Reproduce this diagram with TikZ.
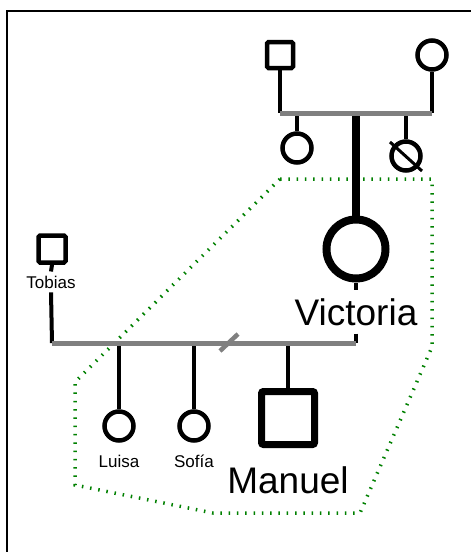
\documentclass[tikz,border=0pt]{standalone}
\usepackage{fontspec}
\setmainfont{Liberation Sans}
\definecolor{uniongray}{RGB}{128,128,128}
\definecolor{circlegreen}{RGB}{0,128,0}
\begin{document}
\begin{tikzpicture}[x=1pt, y=-1pt,
  person/.style={draw=black, line width=4.5pt, fill=white, inner sep=0pt},
  male/.style={person, rectangle, minimum size=26pt, rounded corners=1.5pt},
  female/.style={person, circle, minimum size=29pt},
  kin/.style={line width=4pt},
  union/.style={line width=5pt, draw=uniongray},
  tag/.style={font=\fontsize{17}{20}\selectfont, anchor=base, inner sep=4pt, fill=white},
  bigtag/.style={font=\fontsize{37}{44}\selectfont, anchor=base, inner xsep=2pt, inner ysep=8pt, fill=white},
  ring/.style={draw=circlegreen, line width=3.5pt, dash pattern=on 1.5pt off 6.8pt}
]
\useasboundingbox (0,0) rectangle (471,552);

% outer frame
\draw[line width=2pt] (471,11) -- (7,11) -- (7,552);

% dotted outline around the focus group
\draw[ring] (280,179) -- (432,179) -- (432,347) -- (360,513) -- (213,513)
  -- (75,485) -- (75,382) -- cycle;

% union points
\coordinate (upL) at (280,113);
\coordinate (upR) at (432,113);
\coordinate (loL) at (52,343);
\coordinate (loR) at (356,343);
\coordinate (split) at (229,343);

% grandparents and their children
\node[male] (gf) at (280,55) {};
\node[female] (gm) at (432,55) {};
\node[female] (aunt1) at (297,148) {};
\node[female] (aunt2) at (406,156) {};
\node[person, circle, line width=8pt, minimum size=59pt] (victoria) at (356,249) {};
\node[bigtag] (vlab) at (356,325) {Victoria};

% second family
\node[male, minimum size=27pt] (tobias) at (52,249) {};
\node[tag] (tlab) at (51,288) {Tobias};
\node[female] (luisa) at (119,426) {};
\node[female] (sofia) at (194,426) {};
\node[person, rectangle, line width=7pt, minimum size=53pt, rounded corners=2pt] (manuel) at (288,418) {};
\node[tag] (llab) at (119,467) {Luisa};
\node[tag] (slab) at (194,467) {Sofía};
\node[bigtag, inner ysep=4pt] (mlab) at (288,493) {Manuel};

% descent lines, upper generation
\draw[kin] (gf.south) -- (upL);
\draw[kin] (gm.south) -- (upR);
\draw[kin] (aunt1.north) -- (aunt1.north |- upL);
\draw[kin] (aunt2.north) -- (aunt2.north |- upL);
\draw[line width=8pt] (victoria.north) -- (victoria.north |- upL);
\draw[union] (upL) -- (upR);
\draw[line width=3pt] ([shift={(-16,-14)}]aunt2.center) -- ([shift={(16,15)}]aunt2.center);

% descent lines, lower generation
\draw[kin] (victoria.south) -- (vlab.north);
\draw[kin] (vlab.south) -- (loR);
\draw[kin] (tobias.south) -- (tlab.north);
\draw[kin] (tlab.south) -- (loL);
\draw[kin] (luisa.north) -- (luisa.north |- loL);
\draw[kin] (sofia.north) -- (sofia.north |- loL);
\draw[kin] (manuel.north) -- (manuel.north |- loL);
\draw[union] (loL) -- (loR);
\draw[union, line width=4.5pt] ([shift={(-9,8)}]split) -- ([shift={(9,-9)}]split);
\end{tikzpicture}
\end{document}
